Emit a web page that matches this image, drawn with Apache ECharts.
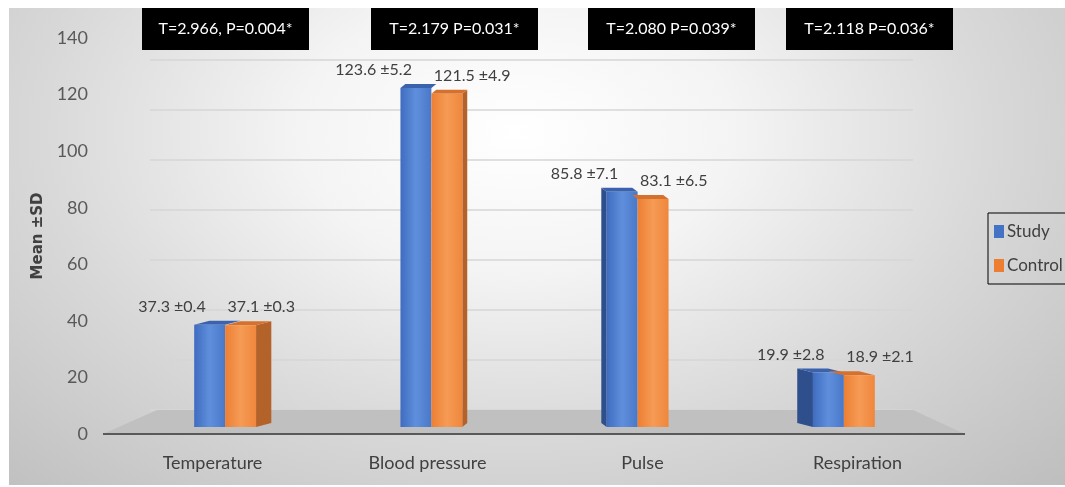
<!DOCTYPE html>
<html>
<head>
<meta charset="utf-8">
<script src="https://cdn.jsdelivr.net/npm/echarts@6/dist/echarts.min.js"></script>
<style>
  html, body { margin: 0; padding: 0; background: #fff; }
  #bg {
    position: absolute; left: 9px; top: 8px; width: 1056px; height: 477px;
    background: radial-gradient(ellipse at 48% 26%, #ffffff 0%, #f4f4f4 28%, #d8d8d8 62%, #bebebe 100%);
  }
  #main { position: absolute; left: 0; top: 0; width: 1065px; height: 487px; }
</style>
</head>
<body>
<div id="bg"></div>
<div id="main"></div>
<script>
const categories = ['Temperature', 'Blood pressure', 'Pulse', 'Respiration']
const studyMean = [37.3, 123.6, 85.8, 19.9]
const studySD = [0.4, 5.2, 7.1, 2.8]
const controlMean = [37.1, 121.5, 83.1, 18.9]
const controlSD = [0.3, 4.9, 6.5, 2.1]
const testLabels = ['T=2.966, P=0.004*', 'T=2.179 P=0.031*', 'T=2.080 P=0.039*', 'T=2.118 P=0.036*']

// layout of the black boxes (pixels)
const boxLeft = [142, 371, 588, 786]
const boxWidth = 167
const font = 'Lato, "Open Sans", sans-serif'
const vanishX = 530

const colors = {
    study: { front: ['#3f6cc0', '#5f8fdc', '#4a78c9'], top: '#3b63ad', side: '#2e4e8c', base: '#4472C4' },
    control: { front: ['#ec7f33', '#f69b55', '#ef873c'], top: '#d5712c', side: '#b3622a', base: '#ED7D31' }
}

function barRenderer (side, c, sd) {
    return function (params, api) {
        const idx = api.value(0)
        const val = api.value(1)
        const top = api.coord([idx, val])
        const base = api.coord([idx, 0])
        const bw = api.size([1, 0])[0] * 0.15
        const x0 = side < 0 ? top[0] - bw : top[0]
        const x1 = x0 + bw
        const ty = top[1], by = base[1]
        const dx = (vanishX - top[0]) * 0.05
        const dy = -4
        const children = []
        if (dx > 0 && side > 0) {
            children.push({ type: 'polygon', shape: { points: [[x1, ty], [x1 + dx, ty + dy], [x1 + dx, by + dy], [x1, by]] }, style: { fill: c.side } })
        }
        if (dx < 0 && side < 0) {
            children.push({ type: 'polygon', shape: { points: [[x0, ty], [x0 + dx, ty + dy], [x0 + dx, by + dy], [x0, by]] }, style: { fill: c.side } })
        }
        children.push({ type: 'polygon', shape: { points: [[x0, ty], [x1, ty], [x1 + dx, ty + dy], [x0 + dx, ty + dy]] }, style: { fill: c.top } })
        children.push({
            type: 'rect',
            shape: { x: x0, y: ty, width: bw, height: by - ty },
            style: {
                fill: new echarts.graphic.LinearGradient(0, 0, 1, 0, [
                    { offset: 0, color: c.front[0] },
                    { offset: 0.5, color: c.front[1] },
                    { offset: 1, color: c.front[2] }
                ])
            }
        })
        const cx = (x0 + x1) / 2
        children.push({
            type: 'text',
            style: {
                text: val.toFixed(1) + ' \u00b1' + sd[idx].toFixed(1),
                x: side < 0 ? cx - 4 : cx - 13,
                y: ty - 18,
                align: side < 0 ? 'right' : 'left',
                verticalAlign: 'middle',
                fill: '#404040',
                font: '16px ' + font
            }
        })
        return { type: 'group', children }
    }
}

const chart = echarts.init(document.getElementById('main'), null, { renderer: 'canvas' })

const option = {
    backgroundColor: 'transparent',
    animation: false,
    grid: [
        { left: 105, right: 100, top: 38, bottom: 53 },
        { left: 150, right: 152, top: 60, bottom: 77 },
        { left: 122, right: 118, top: 43, bottom: 60 }
    ],
    xAxis: [
        {
            gridIndex: 0, type: 'category', data: categories,
            axisLine: { show: false }, axisTick: { show: false },
            axisLabel: { color: '#404040', fontSize: 18, fontFamily: font, margin: 20 }
        },
        { gridIndex: 1, type: 'category', data: categories, show: false },
        { gridIndex: 2, type: 'category', data: categories, show: false }
    ],
    yAxis: [
        {
            gridIndex: 0, type: 'value', min: 0, max: 140, interval: 20,
            name: 'Mean \u00b1SD', nameLocation: 'middle', nameRotate: 90, nameGap: 55,
            nameTextStyle: { color: '#404040', fontSize: 15, fontWeight: 'bold', fontFamily: '"DejaVu Sans", sans-serif' },
            axisLine: { show: false }, axisTick: { show: false }, splitLine: { show: false },
            axisLabel: { color: '#595959', fontSize: 18, fontFamily: font, margin: 17 }
        },
        {
            gridIndex: 1, type: 'value', min: 0, max: 140, interval: 20,
            axisLine: { show: false }, axisTick: { show: false }, axisLabel: { show: false },
            splitLine: { lineStyle: { color: '#d6d6d6', width: 1.5 } }
        },
        { gridIndex: 2, type: 'value', min: 0, max: 140, interval: 20, show: false }
    ],
    legend: {
        orient: 'vertical', left: 988, top: 213,
        data: ['Study', 'Control'],
        icon: 'rect', itemWidth: 10, itemHeight: 13, itemGap: 17,
        borderColor: '#000', borderWidth: 1, padding: [10, 8, 10, 6],
        textStyle: { color: '#404040', fontSize: 17, fontFamily: font, padding: [0, 0, 0, -2] }
    },
    graphic: [
        {
            type: 'polygon', z: 1,
            shape: { points: [[103, 434], [157, 410], [913, 410], [965, 434]] },
            style: { fill: '#c0c0c0' }
        },
        {
            type: 'line', z: 1,
            shape: { x1: 103, y1: 434, x2: 965, y2: 434 },
            style: { stroke: '#595959', lineWidth: 2 }
        },
        ...testLabels.map((t, i) => ({
            type: 'group', left: boxLeft[i], top: 8, z: 10,
            children: [
                { type: 'rect', shape: { x: 0, y: 0, width: boxWidth, height: 42 }, style: { fill: '#000' } },
                {
                    type: 'text', style: {
                        text: t, x: boxWidth / 2, y: 21, align: 'center', verticalAlign: 'middle',
                        fill: '#fff', font: '16px ' + font
                    }
                }
            ]
        }))
    ],
    series: [
        {
            name: 'Study', type: 'custom', xAxisIndex: 2, yAxisIndex: 2, z: 3,
            itemStyle: { color: colors.study.base },
            renderItem: barRenderer(-1, colors.study, studySD),
            data: studyMean.map((v, i) => [i, v])
        },
        {
            name: 'Control', type: 'custom', xAxisIndex: 2, yAxisIndex: 2, z: 4,
            itemStyle: { color: colors.control.base },
            renderItem: barRenderer(1, colors.control, controlSD),
            data: controlMean.map((v, i) => [i, v])
        }
    ]
}
chart.setOption(option)
</script>
</body>
</html>
